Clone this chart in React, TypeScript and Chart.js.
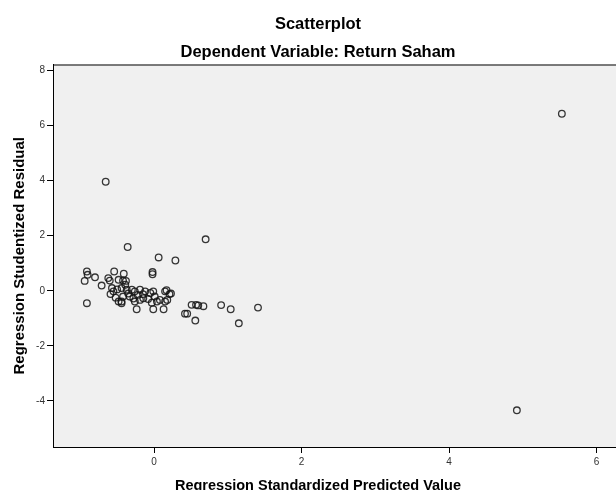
import React, { useEffect, useRef } from "react";
import { Chart, registerables } from "chart.js";

Chart.register(...registerables);

const titleLines = ["Scatterplot", "Dependent Variable: Return Saham"];
const xTitle = "Regression Standardized Predicted Value";
const yTitle = "Regression Studentized Residual";

const predicted = [
  5.53, 4.92, -0.655, -0.357, 0.063, 0.29, 0.7,
  -0.91, -0.9, -0.94, -0.8, -0.71, -0.91, -0.62, -0.6, -0.54, -0.48,
  -0.41, -0.38, -0.57, -0.59, -0.55, -0.5, -0.52, -0.48, -0.44, -0.42,
  -0.39, -0.44, -0.37, -0.3, -0.26, -0.19, -0.12, -0.05, -0.01, 0.01,
  0.08, 0.15, 0.04, -0.03, -0.145, -0.19, -0.26, -0.33, -0.42, -0.44,
  -0.235, -0.01, 0.13, 0.15, -0.02, -0.02, 0.17, 0.21, 0.23, 0.18,
  0.51, 0.57, 0.6, 0.67, 0.42, 0.45, 0.56, 0.91, 1.04, 1.41,
  1.15, -0.35, -0.22, -0.08, -0.28, -0.15,
];
const residual = [
  6.43, -4.34, 3.96, 1.59, 1.21, 1.1, 1.87,
  0.7, 0.58, 0.36, 0.49, 0.19, -0.45, 0.46, 0.37, 0.7, 0.4,
  0.62, 0.36, 0.1, -0.12, -0.02, 0.05, -0.25, -0.39, -0.39, 0.37,
  0.22, 0.1, 0.04, 0.04, -0.02, 0.04, -0.02, -0.08, -0.02, -0.21,
  -0.33, -0.39, -0.39, -0.43, -0.27, -0.33, -0.39, -0.21, -0.21, -0.45,
  -0.67, -0.67, -0.67, -0.02, 0.68, 0.6, 0.02, -0.12, -0.1, -0.33,
  -0.51, -0.51, -0.53, -0.56, -0.83, -0.83, -1.08, -0.52, -0.67, -0.61,
  -1.18, -0.1, -0.15, -0.3, -0.28, -0.12,
];

const FONT = "Arial, 'Liberation Sans', sans-serif";

const plotFrame = {
  id: "plotFrame",
  beforeDraw(chart: any) {
    const { ctx, chartArea } = chart;
    ctx.save();
    ctx.fillStyle = "#f0f0f0";
    ctx.fillRect(chartArea.left, chartArea.top, chartArea.right - chartArea.left, chartArea.bottom - chartArea.top);
    ctx.restore();
  },
  afterDraw(chart: any) {
    const { ctx, chartArea } = chart;
    ctx.save();
    ctx.strokeStyle = "#000";
    ctx.lineWidth = 1;
    ctx.strokeRect(chartArea.left + 0.5, chartArea.top + 0.5, chartArea.right - chartArea.left + 10, chartArea.bottom - chartArea.top);
    ctx.restore();
  },
};

export default function App() {
  const ref = useRef<HTMLCanvasElement | null>(null);
  useEffect(() => {
    document.body.style.margin = "0";
    const canvas = ref.current;
    if (!canvas) return;
    const points = predicted.map((x, i) => ({ x, y: residual[i] }));
    const chart = new Chart(canvas, {
      type: "scatter",
      data: {
        datasets: [
          {
            data: points,
            pointStyle: "circle",
            pointRadius: 3.3,
            pointBorderWidth: 1.3,
            pointBorderColor: "rgba(20,20,20,0.85)",
            pointBackgroundColor: "rgba(0,0,0,0)",
            showLine: false,
          },
        ],
      },
      plugins: [plotFrame],
      options: {
        animation: false,
        responsive: false,
        devicePixelRatio: 1,
        layout: { autoPadding: false, padding: { left: 0, top: 0, right: -20, bottom: -5 } },
        plugins: {
          legend: { display: false },
          tooltip: { enabled: false },
          title: {
            display: true,
            text: titleLines,
            color: "#000",
            font: { family: FONT, size: 16.5, weight: "bold", lineHeight: 28 / 16.5 },
            padding: { top: 10, bottom: -1.5 },
          },
          subtitle: {
            display: true,
            position: "bottom",
            text: xTitle,
            color: "#000",
            font: { family: FONT, size: 14.5, weight: "bold", lineHeight: 1.2 },
            padding: { top: 8.6, bottom: 0 },
          },
        },
        scales: {
          x: {
            type: "linear",
            min: -1.3695,
            max: 6.264,
            afterFit: (s: any) => {
              s.height = 22;
            },
            border: { display: true, color: "#000", width: 1 },
            grid: { drawOnChartArea: false, drawTicks: true, tickLength: 6, tickColor: "#000" },
            ticks: {
              stepSize: 2,
              includeBounds: false,
              padding: 3,
              color: "#333",
              font: { family: FONT, size: 10 },
              maxRotation: 0,
            },
          },
          y: {
            type: "linear",
            min: -5.673,
            max: 8.218,
            afterFit: (s: any) => {
              s.width = 53;
            },
            border: { display: true, color: "#000", width: 1 },
            grid: { drawOnChartArea: false, drawTicks: true, tickLength: 6, tickColor: "#000" },
            ticks: {
              stepSize: 2,
              includeBounds: false,
              padding: 2,
              color: "#333",
              font: { family: FONT, size: 10 },
            },
            title: {
              display: true,
              text: yTitle,
              color: "#000",
              font: { family: FONT, size: 15, weight: "bold", lineHeight: 1.2 },
              padding: { top: 10.5, bottom: 0 },
            },
          },
        },
      },
    } as any);
    return () => chart.destroy();
  }, []);
  return (
    <div style={{ position: "absolute", left: 0, top: 0, width: 616, height: 490, overflow: "hidden", background: "#fff" }}>
      <canvas ref={ref} width={616} height={490} style={{ display: "block", width: 616, height: 490 }} />
    </div>
  );
}
